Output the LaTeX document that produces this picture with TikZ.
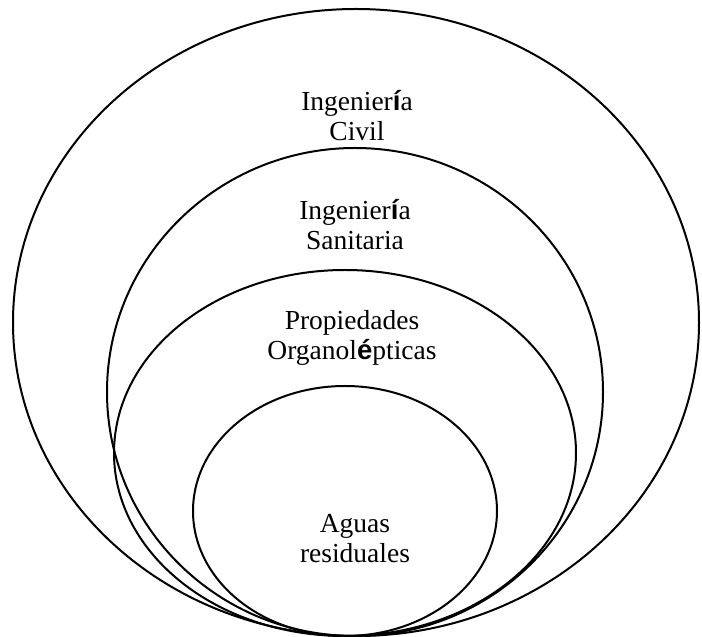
\documentclass[tikz,border=0pt]{standalone}
\usepackage{fontspec}
\setmainfont{Liberation Serif}
\newfontfamily\accfont{Liberation Sans}
\newcommand{\bacc}[1]{{\accfont\bfseries #1}}
\begin{document}
\begin{tikzpicture}[x=1pt,y=1pt,
  ring/.style={line width=2pt},
  lbl/.style={align=center,font=\fontsize{27.5}{30}\selectfont,inner sep=0pt}]
\useasboundingbox (0,0) rectangle (702,637);
\draw[ring] (356,314.5) ellipse [x radius=343, y radius=313.5];
\draw[ring] (355,245) ellipse [x radius=248, y radius=244];
\draw[ring] (345,184) ellipse [x radius=231, y radius=183];
\draw[ring] (345,126) ellipse [x radius=152, y radius=125];
\node[lbl] (civil) at (357,521) {Ingenier\bacc{í}a\\Civil};
\node[lbl] (sanit) at (355,412) {Ingenier\bacc{í}a\\Sanitaria};
\node[lbl] (prop) at (352,299) {Propiedades\\Organol\bacc{é}pticas};
\node[lbl] (aguas) at (355,98) {Aguas\\residuales};
\end{tikzpicture}
\end{document}
